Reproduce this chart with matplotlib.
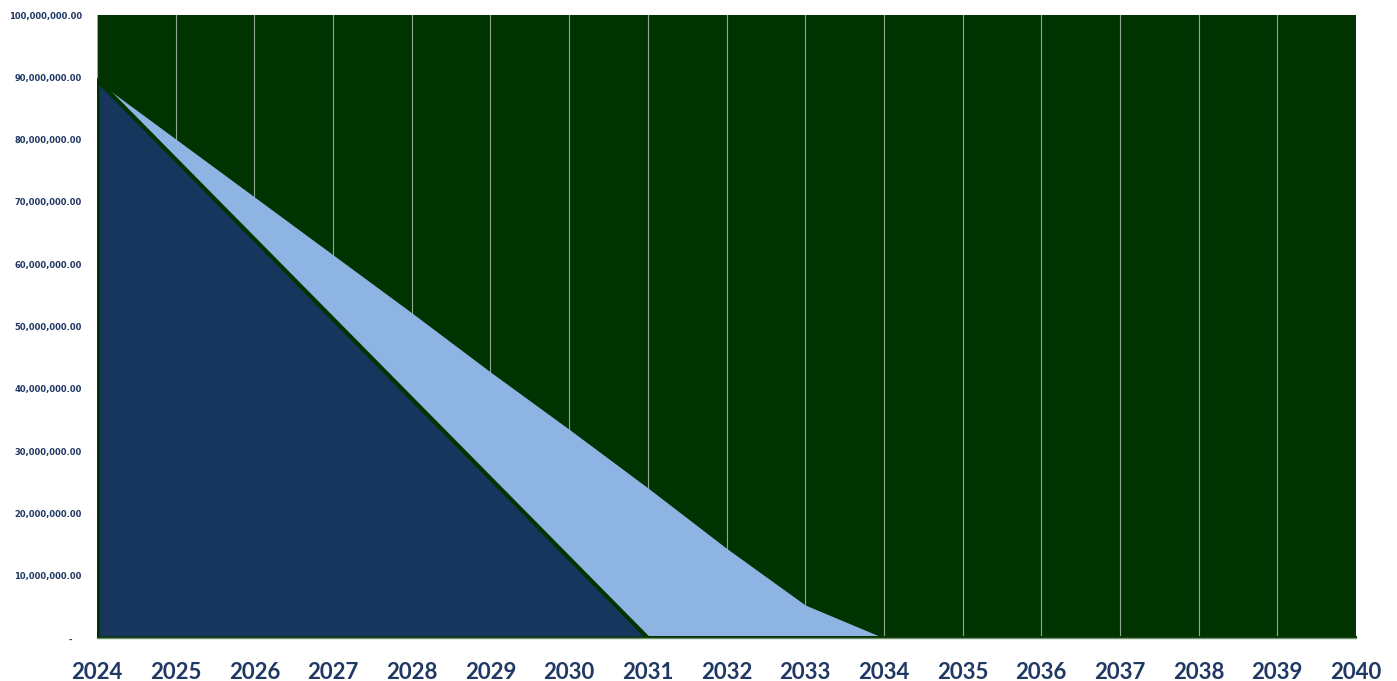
import matplotlib
matplotlib.use("Agg")
import matplotlib.pyplot as plt
from matplotlib.ticker import FuncFormatter

years = list(range(2024, 2041))
# Navy series (front)
series_a = [89.6e6, 76.8e6, 64.0e6, 51.2e6, 38.4e6, 25.6e6, 12.8e6, 0, 0, 0, 0, 0, 0, 0, 0, 0, 0]
# Light blue series (behind)
series_b = [89.4e6, 80.1e6, 70.8e6, 61.5e6, 52.2e6, 42.7e6, 33.5e6, 24.1e6, 14.4e6, 5.3e6, 0, 0, 0, 0, 0, 0, 0]
y_ticks = [i * 10e6 for i in range(11)]

BG = "#013301"
NAVY = "#17365d"
LIGHT = "#8db4e2"
LABEL = "#1f3864"
GRID = "#8fa88f"

fig = plt.figure(figsize=(13.97, 6.81), dpi=100)
ax = fig.add_axes([97/1397, 43/681, (1356-97)/1397, (638-15)/681])
ax.set_facecolor(BG)

ax.fill_between(years, series_b, 0, color=LIGHT, linewidth=0, zorder=2)
ax.fill_between(years, series_a, 0, facecolor=NAVY, edgecolor=BG, linewidth=3, zorder=3)

ax.set_xlim(2024, 2040)
ax.set_ylim(0, 100e6)
ax.set_xticks(years)
ax.set_xticklabels([str(y) for y in years])
ax.set_yticks(y_ticks)
ax.yaxis.set_major_formatter(FuncFormatter(lambda v, p: "-   " if v == 0 else f"{v:,.2f}"))

ax.grid(axis="x", color=GRID, linewidth=0.8, zorder=1)
ax.set_axisbelow(True)

for lab in ax.get_xticklabels():
    lab.set_fontfamily("Lato")
    lab.set_fontweight("bold")
    lab.set_fontsize(16)
    lab.set_color(LABEL)
for lab in ax.get_yticklabels():
    lab.set_fontfamily("DejaVu Sans")
    lab.set_fontweight("bold")
    lab.set_fontsize(6)
    lab.set_color(LABEL)

ax.tick_params(axis="x", length=0, pad=17)
ax.tick_params(axis="y", length=0, pad=11)

for s in ["left", "right", "top"]:
    ax.spines[s].set_visible(False)
ax.spines["bottom"].set_color("#6f8f6f")
ax.spines["bottom"].set_linewidth(1)
ax.spines["bottom"].set_zorder(4)

fig.savefig("out.png", dpi=100, facecolor="white")
